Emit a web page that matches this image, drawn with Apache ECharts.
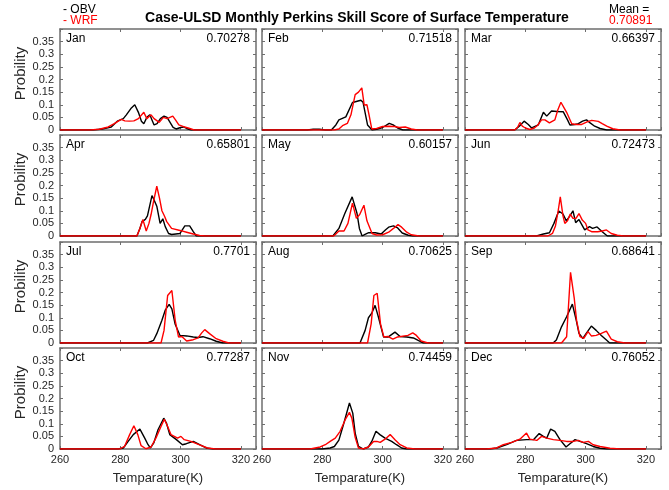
<!DOCTYPE html>
<html><head><meta charset="utf-8">
<script src="https://cdn.jsdelivr.net/npm/echarts@6/dist/echarts.min.js"></script>
<style>html,body{margin:0;padding:0;background:#fff}#c{width:669px;height:490px}</style>
</head><body><div id="c"></div><script>
// ---------- data ----------
const months = ['Jan','Feb','Mar','Apr','May','Jun','Jul','Aug','Sep','Oct','Nov','Dec'];
const scores = ['0.70278','0.71518','0.66397','0.65801','0.60157','0.72473','0.7701','0.70625','0.68641','0.77287','0.74459','0.76052'];
const meanScore = '0.70891';
const xTicks = [260, 280, 300, 320];
const yTicks = [0, 0.05, 0.1, 0.15, 0.2, 0.25, 0.3, 0.35];

const janOBV = [[260,0],[271,0],[274,0.004],[277,0.012],[279,0.035],[280,0.04],[281,0.045],[282,0.06],[283.5,0.085],[284.8,0.1],[286,0.07],[287,0.035],[287.8,0.025],[288.8,0.05],[289.8,0.06],[290.5,0.04],[291.2,0.02],[292.2,0.025],[293.3,0.045],[294.5,0.055],[295.5,0.05],[296.5,0.03],[297.5,0.01],[298.5,0.004],[300,0.01],[301,0.012],[302,0.006],[303.5,0],[320,0]];
const janWRF = [[260,0],[270,0],[273,0.003],[276,0.012],[278,0.025],[280.3,0.042],[281.5,0.036],[283,0.035],[284.5,0.036],[286,0.045],[287.8,0.07],[288.8,0.045],[290.2,0.06],[291.2,0.045],[292.9,0.03],[294.3,0.05],[295.5,0.045],[297.4,0.055],[298.3,0.04],[299.4,0.02],[301,0.013],[302.5,0.008],[304.5,0],[320,0]];
const febOBV = [[260,0],[275,0],[277,0.003],[279,0.003],[281,0],[283,0],[284.5,0.02],[285.5,0.04],[287.8,0.052],[290,0.109],[292.8,0.118],[293.5,0.11],[295,0.02],[296.5,0],[298,0.003],[300,0.01],[302.2,0.026],[303.5,0.02],[305,0.008],[306.7,0],[320,0]];
const febWRF = [[260,0],[284,0],[285.5,0.004],[286.7,0.017],[288.3,0.026],[289.5,0.06],[290.9,0.14],[292,0.15],[293.1,0.167],[293.9,0.099],[294.8,0.1],[295.5,0.06],[296.4,0.004],[298,0.006],[300,0.014],[302,0.015],[304,0.014],[305.5,0.01],[307.5,0.012],[309.5,0.004],[311.5,0],[320,0]];
const marOBV = [[260,0],[276.5,0],[278,0.015],[279.6,0.035],[281,0.022],[282.1,0.008],[284.3,0.02],[286,0.07],[287.1,0.055],[288.7,0.075],[290.5,0.073],[292.6,0.072],[294,0.04],[294.8,0.02],[296.5,0.022],[297.6,0.025],[299,0.035],[300.3,0.04],[301.5,0.028],[303,0.015],[304.8,0.006],[307,0],[320,0]];
const marWRF = [[260,0],[276.5,0],[277.5,0.012],[278.2,0.03],[279,0.015],[280,0.008],[281.5,0.002],[283,0.008],[284,0.018],[285.4,0.04],[286.5,0.04],[288,0.028],[289.8,0.04],[290.8,0.08],[291.8,0.11],[293,0.085],[293.7,0.07],[295.4,0.025],[297,0.022],[298.7,0.022],[300.5,0.032],[302,0.038],[304.2,0.034],[305.5,0.025],[307,0.015],[309,0.005],[311.4,0],[320,0]];
const aprOBV = [[260,0],[285.5,0],[286.5,0.03],[287.2,0.057],[288.3,0.066],[289,0.08],[290.5,0.16],[291,0.148],[292.1,0.118],[293.2,0.05],[294.1,0.068],[294.9,0.037],[296,0.01],[297,0.006],[299.8,0.01],[301.4,0.04],[303,0.04],[304.2,0.017],[305.2,0],[320,0]];
const aprWRF = [[260,0],[285.5,0],[286.5,0.03],[287.5,0.065],[288.6,0.02],[289.5,0.05],[290.2,0.085],[291,0.135],[292.1,0.197],[293,0.15],[293.8,0.1],[294.6,0.08],[295.4,0.057],[297,0.03],[299.8,0.022],[302,0.015],[304.2,0.008],[306.3,0.002],[308,0],[320,0]];
const mayOBV = [[260,0],[283.5,0],[285.5,0.03],[287.5,0.09],[289.9,0.155],[291.5,0.09],[292.3,0.03],[293.2,0],[294,0.005],[295.4,0.013],[297.6,0.013],[299.5,0.008],[301,0.025],[302,0.035],[303.6,0.04],[305,0.032],[306.5,0.012],[308.5,0.003],[310,0],[320,0]];
const mayWRF = [[260,0],[283.8,0],[285.5,0.02],[287.2,0.02],[288.5,0.05],[290,0.13],[291.3,0.07],[292.4,0.085],[293.8,0.122],[294.8,0.06],[296.5,0.01],[298,0.004],[300,0.005],[302,0.015],[303.6,0.03],[305.1,0.045],[306.3,0.035],[308,0.015],[309.5,0.005],[312,0],[320,0]];
const junOBV = [[260,0],[283.7,0],[286,0.008],[288,0.013],[289.5,0.05],[291.1,0.099],[292.5,0.087],[293.6,0.06],[294.8,0.08],[295.8,0.1],[296.7,0.053],[297.8,0.065],[299.7,0.024],[301.3,0.037],[302.3,0.03],[303.8,0.036],[305.5,0.017],[307.2,0],[320,0]];
const junWRF = [[260,0],[287.5,0],[289,0.01],[290,0.04],[290.9,0.1],[291.6,0.155],[292.5,0.08],[293.1,0.05],[294,0.06],[294.9,0.087],[295.8,0.07],[296.8,0.07],[297.8,0.089],[298.9,0.063],[300,0.05],[300.8,0.024],[302,0.017],[304,0.017],[305.5,0.02],[306.9,0.024],[308.5,0.01],[310.5,0.003],[312.5,0],[320,0]];
const julOBV = [[260,0],[289,0],[291,0.01],[292.1,0.037],[293.8,0.09],[294.9,0.13],[296.2,0.153],[297.1,0.135],[298.2,0.074],[299.8,0.03],[302,0.028],[304.2,0.024],[305.8,0.022],[307.4,0.025],[309.6,0.017],[311.8,0.007],[314,0],[320,0]];
const julWRF = [[260,0],[293.5,0],[294.5,0.05],[295.7,0.188],[297.1,0.208],[298.2,0.09],[299.3,0.024],[300.4,0.026],[302,0.008],[304.2,0.013],[305.8,0.02],[307,0.04],[308,0.053],[309.6,0.037],[311.8,0.017],[314,0.007],[316,0],[320,0]];
const augOBV = [[260,0],[292.5,0],[294.2,0.05],[295.3,0.1],[296.4,0.118],[297.5,0.149],[298.6,0.103],[300.3,0.024],[301.9,0.024],[304.1,0.043],[305.8,0.026],[308,0.024],[310.2,0.02],[311.8,0.01],[313.5,0],[320,0]];
const augWRF = [[260,0],[295,0],[296.2,0.076],[297.1,0.188],[298.2,0.197],[299.3,0.076],[300.4,0.024],[301.7,0.026],[303.4,0.015],[305,0.024],[308.4,0.03],[310,0.04],[311.2,0.03],[312.8,0.008],[315,0],[320,0]];
const sepOBV = [[260,0],[289.2,0],[290.3,0.012],[292,0.064],[293.7,0.104],[295.6,0.154],[296.9,0.09],[297.8,0.038],[299.1,0.018],[300.2,0.038],[301.9,0.067],[303.5,0.05],[305.2,0.03],[306.9,0.012],[308,0],[320,0]];
const sepWRF = [[260,0],[292,0],[293.7,0.025],[295,0.28],[296.2,0.18],[297,0.09],[298.1,0.025],[299.4,0.018],[300.8,0.045],[301.9,0.028],[303.5,0.03],[305.2,0.038],[306.9,0.047],[308.5,0.015],[310.5,0.005],[313,0],[320,0]];
const octOBV = [[260,0],[279.3,0],[281,0.004],[282.6,0.03],[284.3,0.057],[286.5,0.079],[288.1,0.043],[289.2,0.017],[290,0.004],[291.1,0.024],[292.5,0.076],[294.4,0.122],[295.3,0.103],[296.4,0.057],[298.6,0.037],[300.6,0.017],[301.9,0.021],[304.2,0.03],[306.3,0.017],[308.5,0.004],[310.7,0],[320,0]];
const octWRF = [[260,0],[279.8,0],[281.4,0.01],[283.1,0.057],[284.5,0.092],[285.8,0.057],[286.9,0.013],[288.5,0.001],[290.2,0.008],[291.8,0.043],[293.5,0.089],[294.6,0.118],[295.7,0.089],[296.8,0.057],[297.9,0.05],[299,0.043],[300.1,0.05],[301.2,0.037],[303.4,0.03],[306.1,0.017],[308.9,0.004],[311.6,0],[320,0]];
const novOBV = [[260,0],[280,0],[282.6,0.004],[284,0.01],[285.5,0.035],[287,0.096],[289,0.182],[290.1,0.142],[290.9,0.063],[292,0.01],[293.6,0],[295.3,0.008],[296.4,0.03],[297.8,0.07],[299.1,0.057],[300.8,0.043],[303,0.03],[304.6,0.017],[306.3,0.004],[307.9,0],[320,0]];
const novWRF = [[260,0],[276,0],[279.3,0.008],[281,0.017],[282.6,0.03],[284.3,0.043],[285.9,0.07],[287.6,0.116],[289,0.145],[289.8,0.122],[290.9,0.046],[292,0.004],[293.6,0],[295.3,0.008],[297,0.03],[298.1,0.03],[299.2,0.026],[300.8,0.039],[302.5,0.057],[304.1,0.037],[305.8,0.017],[308,0.004],[310.7,0],[320,0]];
const decOBV = [[260,0],[268.3,0],[270.5,0.004],[273.8,0.017],[277.1,0.034],[280.4,0.037],[282.7,0.037],[284.6,0.061],[286,0.05],[287.1,0.043],[288.4,0.079],[289.8,0.07],[291.5,0.037],[293.5,0.008],[294.8,0.021],[296.5,0.037],[298.1,0.03],[300.3,0.021],[302.5,0.01],[304.8,0.003],[307,0],[320,0]];
const decWRF = [[260,0],[267.2,0],[270.5,0.004],[272.7,0.017],[275.5,0.026],[278.2,0.039],[280.4,0.063],[281.5,0.039],[283.8,0.034],[285.4,0.05],[287.1,0.043],[289.3,0.037],[291.5,0.034],[293.7,0.03],[295.9,0.03],[297.6,0.034],[299.2,0.026],[300.9,0.03],[302.5,0.017],[304.8,0.01],[308.1,0.003],[311.4,0],[320,0]];

const obvSeries = [janOBV,febOBV,marOBV,aprOBV,mayOBV,junOBV,julOBV,augOBV,sepOBV,octOBV,novOBV,decOBV];
const wrfSeries = [janWRF,febWRF,marWRF,aprWRF,mayWRF,junWRF,julWRF,augWRF,sepWRF,octWRF,novWRF,decWRF];

// ---------- layout ----------
const FONT = '"Liberation Sans", Arial, Helvetica, sans-serif';
const TXT = '#262626';
const FRAME = '#6e6e6e';
const colLeft = [60, 262, 465];
const rowTop = [29, 135, 242, 348];
const panelW = 196, panelH = 101;

const grids = [], xAxes = [], yAxes = [], series = [], graphics = [];
const xFmt = v => (xTicks.indexOf(v) >= 0 ? String(v) : '');
const yFmt = v => {
  const r = Math.round(v * 100) / 100;
  return yTicks.indexOf(r) >= 0 ? String(r) : '';
};
const frameLine = {show: true, onZero: false, lineStyle: {color: FRAME, width: 1.5}};
const tick = {show: true, inside: true, length: 3, lineStyle: {color: FRAME, width: 1}};

for (let i = 0; i < 12; i++) {
  const r = Math.floor(i / 3), c = i % 3;
  grids.push({left: colLeft[c], top: rowTop[r], width: panelW, height: panelH, containLabel: false});
  const xBase = {gridIndex: i, type: 'value', min: 260, max: 325, interval: 20,
    axisLine: frameLine, axisTick: tick, splitLine: {show: false}};
  xAxes.push(Object.assign({}, xBase, {position: 'bottom',
    axisLabel: {show: r === 3, formatter: xFmt, fontSize: 11, color: TXT, fontFamily: FONT, margin: 5, showMaxLabel: true},
    name: r === 3 ? 'Temparature(K)' : '', nameLocation: 'middle', nameGap: 23,
    nameTextStyle: {fontSize: 13, color: TXT, fontFamily: FONT}}));
  xAxes.push(Object.assign({}, xBase, {position: 'top', axisLabel: {show: false}}));
  const yBase = {gridIndex: i, type: 'value', min: 0, max: 0.4, interval: 0.05,
    axisLine: frameLine, axisTick: tick, splitLine: {show: false}};
  yAxes.push(Object.assign({}, yBase, {position: 'left',
    axisLabel: {show: c === 0, formatter: yFmt, fontSize: 11, color: TXT, fontFamily: FONT, margin: 6},
    name: c === 0 ? 'Probility' : '', nameLocation: 'middle', nameGap: 32,
    nameTextStyle: {fontSize: 15, color: TXT, fontFamily: FONT, padding: [0, 0, 0, 12]}}));
  yAxes.push(Object.assign({}, yBase, {position: 'right', axisLabel: {show: false}}));

  series.push({name: 'OBV', type: 'line', xAxisIndex: 2 * i, yAxisIndex: 2 * i, data: obvSeries[i],
    showSymbol: false, symbol: 'none', lineStyle: {color: '#000000', width: 1.4}, itemStyle: {color: '#000'}, silent: true, z: 3});
  series.push({name: 'WRF', type: 'line', xAxisIndex: 2 * i, yAxisIndex: 2 * i, data: wrfSeries[i],
    showSymbol: false, symbol: 'none', lineStyle: {color: '#ff0000', width: 1.4}, itemStyle: {color: '#f00'}, silent: true, z: 4});

  graphics.push({type: 'text', left: colLeft[c] + 6, top: rowTop[r] + 4,
    style: {text: months[i], font: '12px ' + FONT, fill: '#000'}});
  graphics.push({type: 'text', right: 669 - (colLeft[c] + panelW - 6), top: rowTop[r] + 4,
    style: {text: scores[i], font: '12px ' + FONT, fill: '#000'}});
}

graphics.push({type: 'text', x: 357, y: 18, style: {text: 'Case-ULSD Monthly Perkins Skill Score of Surface Temperature',
  font: 'bold 14px ' + FONT, fill: '#000', textAlign: 'center', textVerticalAlign: 'middle'}});
graphics.push({type: 'text', x: 63, y: 10, style: {text: '- OBV', font: '12px ' + FONT, fill: '#000', textVerticalAlign: 'middle'}});
graphics.push({type: 'text', x: 63, y: 21, style: {text: '- WRF', font: '12px ' + FONT, fill: '#ff0000', textVerticalAlign: 'middle'}});
graphics.push({type: 'text', x: 609, y: 10, style: {text: 'Mean =', font: '12px ' + FONT, fill: '#000', textVerticalAlign: 'middle'}});
graphics.push({type: 'text', x: 609, y: 21, style: {text: meanScore, font: '12px ' + FONT, fill: '#ff0000', textVerticalAlign: 'middle'}});

const chart = echarts.init(document.getElementById('c'));
chart.setOption({
  animation: false,
  backgroundColor: '#ffffff',
  textStyle: {fontFamily: FONT},
  grid: grids, xAxis: xAxes, yAxis: yAxes, series: series, graphic: graphics
});
</script></body></html>
